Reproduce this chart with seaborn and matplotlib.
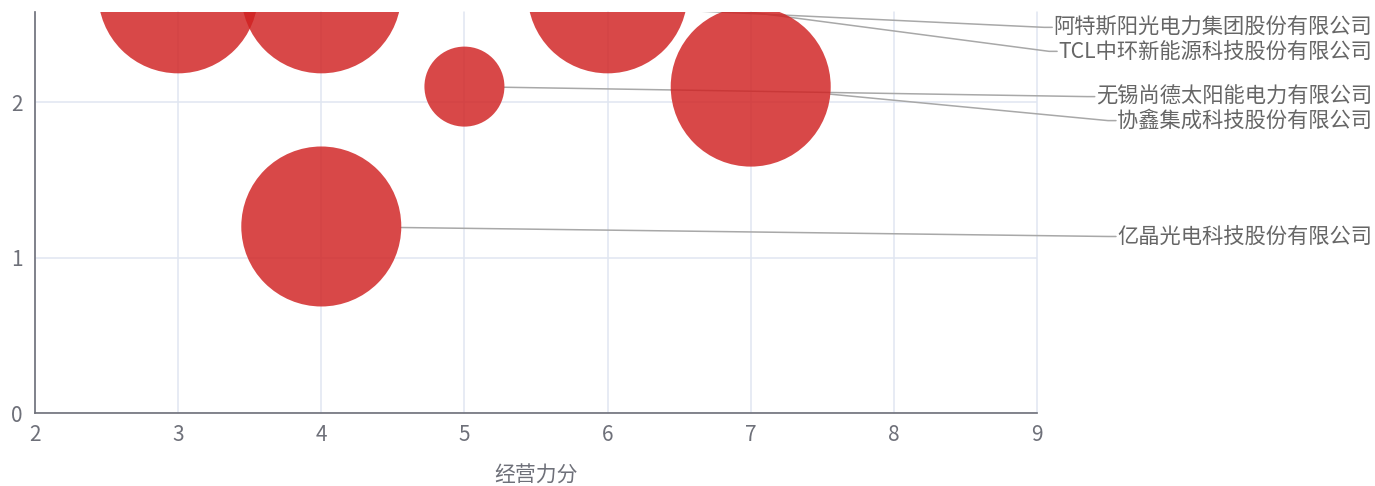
import matplotlib
matplotlib.use("Agg")
import matplotlib.pyplot as plt
import seaborn as sns
import pandas as pd
import numpy as np
from matplotlib.lines import Line2D
from matplotlib.patches import Rectangle
from matplotlib.transforms import IdentityTransform

# ---- data ----
companies = ["", "阿特斯阳光电力集团股份有限公司", "TCL中环新能源科技股份有限公司",
             "无锡尚德太阳能电力有限公司", "协鑫集成科技股份有限公司", "亿晶光电科技股份有限公司"]
op_score = [3, 4, 6, 5, 7, 4]          # 经营力分
y_score = [2.7, 2.7, 2.7, 2.1, 2.1, 1.2]
bubble_val = [4, 4, 4, 1, 4, 4]
x_ticks = [2, 3, 4, 5, 6, 7, 8, 9]
y_ticks = [0, 1, 2]
x_label = "经营力分"

df = pd.DataFrame({"name": companies, "x": op_score, "y": y_score, "v": bubble_val})

sns.set_theme(style="white")
plt.rcParams["font.family"] = ["Noto Sans CJK SC", "DejaVu Sans"]

W, H, DPI = 1375, 486, 100
fig = plt.figure(figsize=(W / DPI, H / DPI), dpi=DPI)
ax = fig.add_axes([35 / W, 73 / H, 1002 / W, 401 / H])

axis_c = "#6e7079"
grid_c = "#e0e6f1"

sns.scatterplot(data=df, x="x", y="y", size="v", sizes=(3318, 13271),
                color="#d02020", alpha=0.82, edgecolor="none", linewidth=0,
                legend=False, ax=ax, zorder=3)

ax.set_xlim(2, 9)
ax.set_ylim(0, 2.58)
ax.set_xticks(x_ticks)
ax.set_yticks(y_ticks)
ax.grid(True, color=grid_c, linewidth=1.1)
ax.set_axisbelow(True)
for gl in ax.get_xgridlines():
    gl.set_clip_on(False)
for s in ["top", "right"]:
    ax.spines[s].set_visible(False)
for s in ["left", "bottom"]:
    ax.spines[s].set_color(axis_c)
    ax.spines[s].set_linewidth(1.2)
    ax.spines[s].set_zorder(4)
ax.tick_params(axis="both", direction="out", length=5, width=1.2, color=axis_c,
               labelcolor=axis_c, labelsize=15)
ax.tick_params(axis="x", pad=3)
ax.tick_params(axis="y", pad=4)
ax.set_xlabel(x_label, fontsize=15, color=axis_c)
ax.xaxis.set_label_coords(0.5, (413 - 476) / 401)
ax.xaxis.label.set_va("center")
ax.set_ylabel("")

fig.canvas.draw()

# ---- labels with leader lines (echarts-like shiftY layout) ----
coll = ax.collections[0]
offs = coll.get_offsets()
sizes = coll.get_sizes()
if len(sizes) == 1:
    sizes = np.repeat(sizes, len(offs))
centers = ax.transData.transform(np.asarray(offs, dtype=float))
radii = np.sqrt(sizes) / 2 * DPI / 72

order = sorted(range(len(df)), key=lambda i: (H - centers[i][1], centers[i][0]))
label_img_y = {}
prev = -1e9
for i in order:
    ly = (H - centers[i][1]) + 10
    if ly < prev + 24:
        ly = prev + 24
    label_img_y[i] = ly
    prev = ly

clip_rect = Rectangle((0, 0), W, H - 12, transform=IdentityTransform(),
                      facecolor="none", edgecolor="none")
fig.add_artist(clip_rect)
clip_rect.set_visible(False)

label_c = "#666666"
line_c = "#a8a8a8"
for i in range(len(df)):
    name = df["name"][i]
    if not name:
        continue
    ly_disp = H - label_img_y[i]
    t = fig.text(1372 / W, ly_disp / H, name, ha="right", va="center",
                 fontsize=15.3, color=label_c)
    t.set_clip_path(clip_rect)
    fig.canvas.draw()
    bb = t.get_window_extent()
    left = bb.x0
    bend = np.array([left - 9, ly_disp])
    end = np.array([left - 1, ly_disp])
    c = centers[i]
    d = bend - c
    d = d / np.hypot(*d)
    start = c + d * radii[i]
    ln = Line2D([start[0], bend[0], end[0]], [start[1], bend[1], end[1]],
                transform=IdentityTransform(), color=line_c, linewidth=1.1,
                zorder=2)
    ax.add_line(ln)
    ln.set_clip_path(clip_rect)

fig.savefig("out.png", dpi=DPI, facecolor="white")
